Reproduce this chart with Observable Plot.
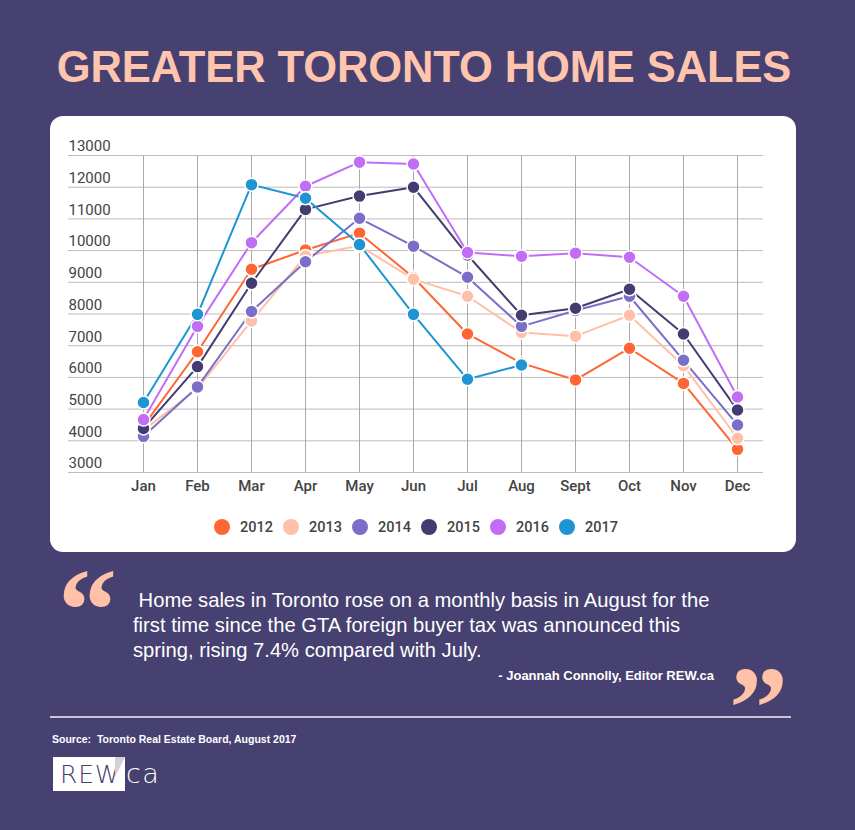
<!DOCTYPE html>
<html>
<head>
<meta charset="utf-8">
<script src="https://cdn.jsdelivr.net/npm/d3@7"></script>
<script src="https://cdn.jsdelivr.net/npm/@observablehq/plot@0.6"></script>
<style>
  html, body { margin: 0; padding: 0; }
  body { width: 855px; height: 830px; background: #464170; position: relative; overflow: hidden; font-family: "Liberation Sans", Arial, sans-serif; }
  .title { position: absolute; left: 0; width: 848px; top: 42px; text-align: center; color: #ffc4ae; font: bold 43.5px "Liberation Sans", Arial, sans-serif; line-height: 50px; letter-spacing: -0.1px; }
  .card { position: absolute; left: 50px; top: 116px; width: 746px; height: 436px; background: #fff; border-radius: 13px; overflow: hidden; }
  .card svg { position: absolute; left: 0; top: 0; }
  .legend { position: absolute; left: 164px; top: 402px; display: flex; font: 500 14.5px Roboto, sans-serif; color: #444; }
  .legend .item { width: 69px; display: flex; align-items: center; height: 18px; }
  .legend .sw { width: 16px; height: 16px; border-radius: 50%; margin-right: 10px; }
  .q { position: absolute; color: #ffc1a8; font: bold 118px "Liberation Serif", serif; line-height: 1; }
  .quote { position: absolute; left: 133px; top: 588px; width: 640px; color: #fff; font: 20.2px "Liberation Sans", Arial, sans-serif; line-height: 25px; white-space: pre; }
  .attr { position: absolute; right: 141px; top: 667px; color: #fff; font: bold 13px "Liberation Sans", Arial, sans-serif; line-height: 18px; }
  .rule { position: absolute; left: 50px; top: 716px; width: 741px; height: 2px; background: #c9c6d6; }
  .source { position: absolute; left: 52px; top: 732px; color: #fff; font: bold 10.5px "Liberation Sans", Arial, sans-serif; line-height: 14px; white-space: pre; }
  .logo { position: absolute; left: 53px; top: 757px; height: 34px; display: flex; align-items: center; }
  .logo-rew { box-sizing: border-box; width: 72px; height: 34px; padding-left: 7px; background: #fff; color: #46416f; font: 200 25px "DejaVu Sans", sans-serif; line-height: 35px; letter-spacing: 0.8px; white-space: nowrap; overflow: hidden; }
  .logo-ca { margin-left: 1px; color: #fff; font: 200 27px "DejaVu Sans", sans-serif; line-height: 34px; letter-spacing: 1.5px; }
  .logo-fold { position: absolute; left: 115px; top: 757px; width: 0; height: 0; border-left: 10px solid #d2d1da; border-bottom: 20px solid transparent; }
</style>
</head>
<body>
<div class="title">GREATER TORONTO HOME SALES</div>
<div class="card" id="card"></div>
<div class="q" style="left:58px; top:552px;">“</div>
<div class="quote"> Home sales in Toronto rose on a monthly basis in August for the
first time since the GTA foreign buyer tax was announced this
spring, rising 7.4% compared with July.</div>
<div class="attr">- Joannah Connolly, Editor REW.ca</div>
<div class="q" style="left:729px; top:650px;">”</div>
<div class="rule"></div>
<div class="source">Source:  Toronto Real Estate Board, August 2017</div>
<div class="logo"><span class="logo-rew">REW</span><span class="logo-ca">ca</span></div>
<div class="logo-fold"></div>
<script>
// Monthly home sales in the Greater Toronto Area, by year
const months = ["Jan", "Feb", "Mar", "Apr", "May", "Jun", "Jul", "Aug", "Sept", "Oct", "Nov", "Dec"];
const years = ["2012", "2013", "2014", "2015", "2016", "2017"];
const sales2012 = [4470, 6810, 9410, 10020, 10550, 9150, 7370, 6450, 5920, 6920, 5810, 3730];
const sales2013 = [4330, 5650, 7780, 9830, 10150, 9100, 8560, 7420, 7300, 7960, 6370, 4080];
const sales2014 = [4140, 5700, 8080, 9650, 11020, 10140, 9160, 7610, 8110, 8560, 6540, 4500];
const sales2015 = [4390, 6340, 8970, 11300, 11720, 12000, 9860, 7960, 8180, 8780, 7370, 4970];
const sales2016 = [4670, 7610, 10250, 12030, 12790, 12730, 9940, 9820, 9920, 9790, 8560, 5380];
const sales2017 = [5210, 7990, 12080, 11650, 10190, 7990, 5940, 6390];
const yTicks = [3000, 4000, 5000, 6000, 7000, 8000, 9000, 10000, 11000, 12000, 13000];
const colors = ["#ff6633", "#ffc0a9", "#7a6fc8", "#433c70", "#c26df6", "#1e95d3"];

const series = [sales2012, sales2013, sales2014, sales2015, sales2016, sales2017];
const rows = series.flatMap((vals, i) =>
  vals.map((v, j) => ({ year: years[i], month: months[j], value: v }))
);

const chart = Plot.plot({
  width: 746,
  height: 390,
  marginTop: 39,
  marginBottom: 34,
  marginLeft: 93,
  marginRight: 59,
  style: { fontFamily: "Roboto, sans-serif", fontSize: "15px", color: "#444", background: "transparent" },
  x: { type: "point", domain: months, padding: 0, axis: null },
  y: { domain: [3000, 13000], axis: null },
  color: { domain: years, range: colors },
  marks: [
    Plot.ruleY(yTicks, { stroke: "#bcbcbc", strokeWidth: 1, insetLeft: -75, insetRight: -26 }),
    Plot.ruleX(months, { stroke: "#a9a9a9", strokeWidth: 1 }),
    Plot.text(yTicks, { y: d => d, text: d => String(d), frameAnchor: "left", textAnchor: "start", dx: -75, dy: -9, fontSize: 15, fill: "#444" }),
    Plot.axisX({ tickSize: 0, tickPadding: 8, fontSize: 15, fontWeight: 500, fill: "#444", label: null }),
    Plot.line(rows, { x: "month", y: "value", z: "year", stroke: "year", strokeWidth: 2 }),
    Plot.dot(rows, { x: "month", y: "value", fill: "year", stroke: "white", strokeWidth: 1.5, r: 6.5 })
  ]
});
const card = document.getElementById("card");
card.appendChild(chart);

// Legend below the plot
const legend = document.createElement("div");
legend.className = "legend";
years.forEach((y, i) => {
  const item = document.createElement("div");
  item.className = "item";
  const sw = document.createElement("span");
  sw.className = "sw";
  sw.style.background = colors[i];
  const label = document.createElement("span");
  label.textContent = y;
  item.append(sw, label);
  legend.appendChild(item);
});
card.appendChild(legend);
</script>
</body>
</html>
